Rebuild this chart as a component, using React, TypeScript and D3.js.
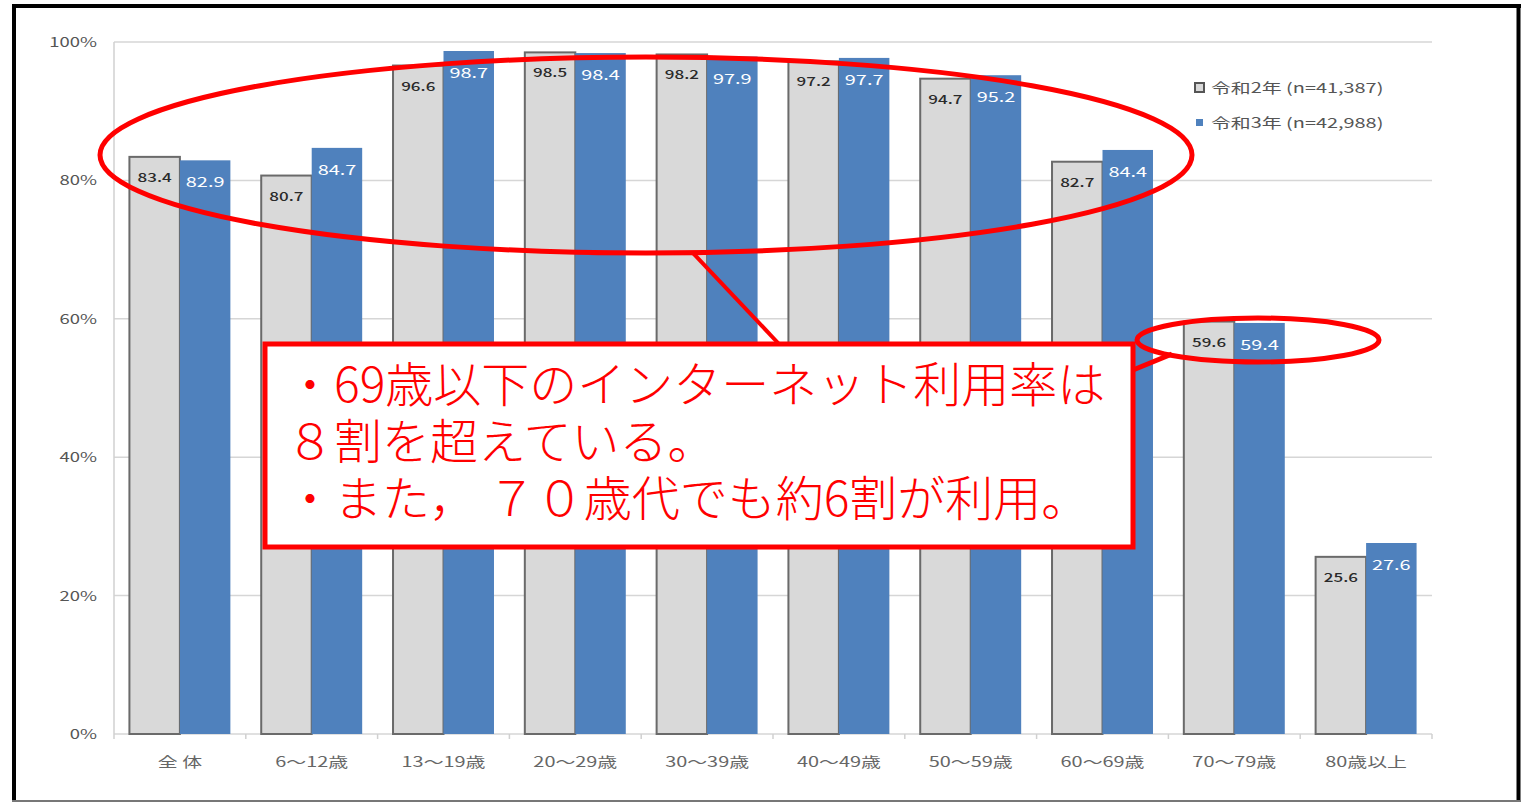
import React from "react";
import * as d3 from "d3";

const categories = ["全 体", "6～12歳", "13～19歳", "20～29歳", "30～39歳", "40～49歳", "50～59歳", "60～69歳", "70～79歳", "80歳以上"];
const seriesNames = ["令和2年 (n=41,387)", "令和3年 (n=42,988)"];
const r2Values = [83.4, 80.7, 96.6, 98.5, 98.2, 97.2, 94.7, 82.7, 59.6, 25.6];
const r3Values = [82.9, 84.7, 98.7, 98.4, 97.9, 97.7, 95.2, 84.4, 59.4, 27.6];
const yTicks = [0, 20, 40, 60, 80, 100];
const noteLines = ["・69歳以下のインターネット利用率は", "８割を超えている。", "・また， ７０歳代でも約6割が利用。"];

const W = 1521;
const H = 804;
const plotL = 114;
const plotR = 1432;
const plotT = 42;
const plotB = 734;
const SX = 1.42;

function SText(props: { x: number; y: number; anchor?: string; size: number; fill: string; children: React.ReactNode; weight?: number }) {
  return (
    <text
      transform={`translate(${props.x},${props.y}) scale(${SX},1)`}
      textAnchor={props.anchor || "start"}
      fontSize={props.size}
      fill={props.fill}
      fontWeight={props.weight || 400}
      style={{ whiteSpace: "pre" }}
    >
      {props.children}
    </text>
  );
}

export default function App() {
  const x0 = d3.scaleBand<string>().domain(categories).range([plotL, plotR]).paddingInner(0.234).paddingOuter(0.117);
  const x1 = d3.scaleBand<string>().domain(["a", "b"]).range([0, x0.bandwidth()]).padding(0);
  const y = d3.scaleLinear().domain([0, 100]).range([plotB, plotT]);
  const font = "'Noto Sans CJK JP', 'Noto Sans', sans-serif";
  const gray = "#d9d9d9";
  const blue = "#4f81bd";
  const step = x0.step();

  return (
    <svg width={W} height={H} style={{ position: "absolute", left: 0, top: 0, background: "#fff" }} fontFamily={font}>
      <rect x={0} y={0} width={W} height={H} fill="#fff" />
      {yTicks.map((t) => (
        <line key={"g" + t} x1={plotL} x2={plotR} y1={y(t)} y2={y(t)} stroke="#d6d6d6" strokeWidth={1.5} />
      ))}
      <line x1={plotL} x2={plotL} y1={plotT} y2={plotB} stroke="#d0d0d0" strokeWidth={1.5} />
      {yTicks.map((t) => (
        <SText key={"yl" + t} x={97} y={y(t) + 5} anchor="end" size={13} fill="#555">
          {t}%
        </SText>
      ))}
      {d3.range(categories.length + 1).map((i) => {
        const xx = plotL + i * step;
        return <line key={"xt" + i} x1={xx} x2={xx} y1={plotB} y2={plotB + 5} stroke="#d0d0d0" strokeWidth={1.5} />;
      })}
      {categories.map((c, i) => {
        const bx = x0(c)!;
        const ga = bx + x1("a")!;
        const gb = bx + x1("b")!;
        const bw = x1.bandwidth();
        return (
          <g key={c}>
            <rect x={ga} y={y(r2Values[i])} width={bw} height={plotB - y(r2Values[i])} fill={gray} stroke="#6a6a6a" strokeWidth={2} />
            <rect x={gb} y={y(r3Values[i])} width={bw} height={plotB - y(r3Values[i])} fill={blue} />
            <SText x={ga + bw / 2} y={y(r2Values[i]) + 25} anchor="middle" size={12} fill="#2a2a2a" weight={500}>
              {r2Values[i].toFixed(1)}
            </SText>
            <SText x={gb + bw / 2} y={y(r3Values[i]) + 27} anchor="middle" size={14} fill="#fff">
              {r3Values[i].toFixed(1)}
            </SText>
            <SText x={bx + x0.bandwidth() / 2} y={767} anchor="middle" size={14} fill="#666">
              {c}
            </SText>
          </g>
        );
      })}
      <rect x={1195} y={83} width={9} height={9} fill={gray} stroke="#555" strokeWidth={2} />
      <SText x={1211} y={93} size={14} fill="#555">{seriesNames[0]}</SText>
      <rect x={1196} y={119} width={7} height={7} fill={blue} />
      <SText x={1211} y={128} size={14} fill="#555">{seriesNames[1]}</SText>

      <ellipse cx={646} cy={155} rx={546} ry={98} fill="none" stroke="#ff0000" strokeWidth={5} />
      <ellipse cx={1258} cy={340} rx={121} ry={22} fill="none" stroke="#ff0000" strokeWidth={5} />
      <line x1={692} y1={252} x2={779} y2={344} stroke="#ff0000" strokeWidth={4} />
      <line x1={1133} y1={370} x2={1172} y2={354} stroke="#ff0000" strokeWidth={5} />
      <rect x={265} y={344} width={868} height={203} fill="#fff" stroke="#ff0000" strokeWidth={5} />
      {noteLines.map((l, i) => (
        <text key={l} x={286} y={402 + i * 57} fontSize={48} fill="#ff0000" fontWeight={300} style={{ whiteSpace: "pre" }}>
          {l}
        </text>
      ))}

      <line x1={14} x2={14} y1={4} y2={801} stroke="#000" strokeWidth={4} />
      <line x1={12} x2={1521} y1={6} y2={6} stroke="#000" strokeWidth={4} />
      <line x1={1518.5} x2={1518.5} y1={4} y2={801} stroke="#000" strokeWidth={4} />
      <line x1={12} x2={1521} y1={801} y2={801} stroke="#777" strokeWidth={2} />
    </svg>
  );
}
